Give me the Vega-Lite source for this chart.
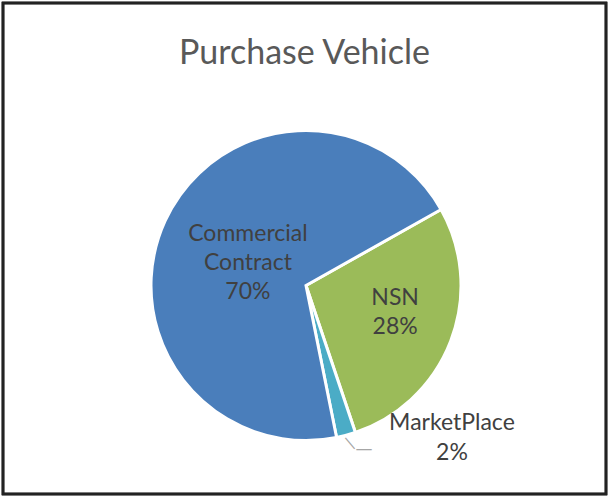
{
  "$schema": "https://vega.github.io/schema/vega-lite/v6.json",
  "autosize": "none",
  "width": 603,
  "height": 491,
  "padding": {"left": 3, "top": 3, "right": 2, "bottom": 2},
  "background": "white",
  "title": {
    "text": "Purchase Vehicle",
    "font": "Lato",
    "fontSize": 34,
    "fontWeight": "normal",
    "color": "#595959",
    "anchor": "middle",
    "baseline": "alphabetic",
    "offset": -96
  },
  "data": {
    "values": [
      {"category": "NSN", "share": 28, "label": "NSN\n28%", "rank": 1},
      {"category": "MarketPlace", "share": 2, "label": "MarketPlace\n2%", "rank": 2},
      {"category": "Commercial Contract", "share": 70, "label": "Commercial\nContract\n70%", "rank": 3}
    ]
  },
  "layer": [
    {
      "mark": {"type": "rect", "filled": false, "stroke": "#222222", "strokeWidth": 2.5},
      "encoding": {}
    },
    {
      "mark": {"type": "arc", "radius": 155, "stroke": "white", "strokeWidth": 3, "xOffset": 1.5, "yOffset": 37},
      "encoding": {
        "theta": {"field": "share", "type": "quantitative", "stack": true, "scale": {"range": [1.058, 7.3412]}},
        "order": {"field": "rank", "type": "quantitative"},
        "color": {
          "field": "category",
          "type": "nominal",
          "legend": null,
          "scale": {"domain": ["Commercial Contract", "NSN", "MarketPlace"], "range": ["#4a7ebb", "#9bbb59", "#4bacc6"]}
        }
      }
    },
    {
      "mark": {"type": "text", "radius": 164, "font": "DejaVu Sans", "fontSize": 16, "color": "#a6a6a6", "text": "\u2014", "angle": 50, "align": "center", "baseline": "middle", "xOffset": 3.6, "yOffset": 36},
      "encoding": {
        "theta": {"field": "share", "type": "quantitative", "stack": true},
        "order": {"field": "rank", "type": "quantitative"},
        "opacity": {"condition": {"test": "datum.category == 'MarketPlace'", "value": 1}, "value": 0}
      }
    },
    {
      "mark": {"type": "text", "radius": 164, "font": "DejaVu Sans", "fontSize": 17, "color": "#a6a6a6", "text": "\u2014", "align": "center", "baseline": "middle", "xOffset": 17.1, "yOffset": 42},
      "encoding": {
        "theta": {"field": "share", "type": "quantitative", "stack": true},
        "order": {"field": "rank", "type": "quantitative"},
        "opacity": {"condition": {"test": "datum.category == 'MarketPlace'", "value": 1}, "value": 0}
      }
    },
    {
      "mark": {"type": "text", "radius": 62, "font": "Lato", "fontSize": 23, "color": "#404040", "lineBreak": "\n", "lineHeight": 29, "align": "center", "baseline": "middle", "xOffset": -0.2, "yOffset": 11.5},
      "encoding": {
        "theta": {"field": "share", "type": "quantitative", "stack": true},
        "order": {"field": "rank", "type": "quantitative"},
        "text": {"condition": {"test": "datum.category == 'Commercial Contract'", "field": "label", "type": "nominal"}, "value": ""}
      }
    },
    {
      "mark": {"type": "text", "radius": 93, "font": "Lato", "fontSize": 23, "color": "#404040", "lineBreak": "\n", "lineHeight": 29, "align": "center", "baseline": "middle", "xOffset": 3.8, "yOffset": 15.9},
      "encoding": {
        "theta": {"field": "share", "type": "quantitative", "stack": true},
        "order": {"field": "rank", "type": "quantitative"},
        "text": {"condition": {"test": "datum.category == 'NSN'", "field": "label", "type": "nominal"}, "value": ""}
      }
    },
    {
      "mark": {"type": "text", "radius": 170, "font": "Lato", "fontSize": 23, "color": "#404040", "lineBreak": "\n", "lineHeight": 30, "align": "center", "baseline": "middle", "xOffset": 103.5, "yOffset": 10.3},
      "encoding": {
        "theta": {"field": "share", "type": "quantitative", "stack": true},
        "order": {"field": "rank", "type": "quantitative"},
        "text": {"condition": {"test": "datum.category == 'MarketPlace'", "field": "label", "type": "nominal"}, "value": ""}
      }
    }
  ]
}
